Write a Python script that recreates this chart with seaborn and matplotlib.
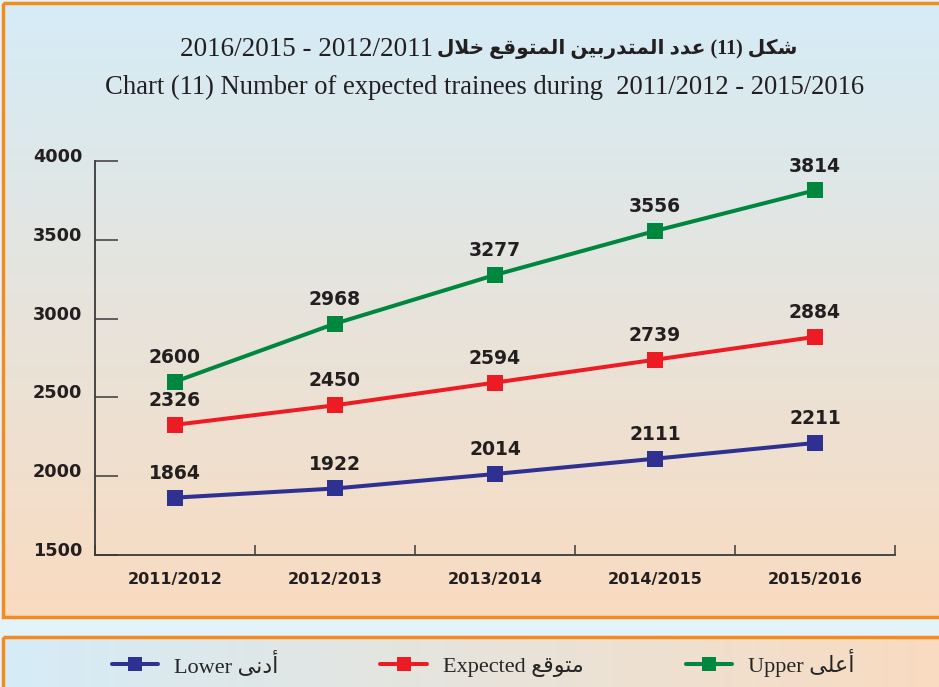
import matplotlib
matplotlib.use("Agg")
import matplotlib.pyplot as plt
import numpy as np
import pandas as pd
import seaborn as sns
from matplotlib.lines import Line2D
from matplotlib.patches import Rectangle
from matplotlib.transforms import ScaledTranslation

YEARS = ["2011/2012", "2012/2013", "2013/2014", "2014/2015", "2015/2016"]
LOWER = [1864, 1922, 2014, 2111, 2211]
EXPECTED = [2326, 2450, 2594, 2739, 2884]
UPPER = [2600, 2968, 3277, 3556, 3814]
SERIES = ["Lower", "Expected", "Upper"]
SERIES_AR = ["أدنى", "متوقع", "أعلى"]
COLORS = ["#2e3192", "#ed1c24", "#00873f"]
Y_TICKS = [1500, 2000, 2500, 3000, 3500, 4000]

TITLE_AR = ["شكل", "(11)", "عدد", "المتدربين", "المتوقع", "خلال"]
TITLE_AR_YEARS = "2016/2015 - 2012/2011"
TITLE_EN = "Chart (11) Number of expected trainees during  2011/2012 - 2015/2016"

# minimal arabic shaping: isolated, final, initial, medial
FORMS = {
    "ا": (0xFE8D, 0xFE8E, None, None), "أ": (0xFE83, 0xFE84, None, None),
    "ب": (0xFE8F, 0xFE90, 0xFE91, 0xFE92), "ت": (0xFE95, 0xFE96, 0xFE97, 0xFE98),
    "خ": (0xFEA5, 0xFEA6, 0xFEA7, 0xFEA8), "د": (0xFEA9, 0xFEAA, None, None),
    "ر": (0xFEAD, 0xFEAE, None, None), "ش": (0xFEB5, 0xFEB6, 0xFEB7, 0xFEB8),
    "ع": (0xFEC9, 0xFECA, 0xFECB, 0xFECC), "ق": (0xFED5, 0xFED6, 0xFED7, 0xFED8),
    "ك": (0xFED9, 0xFEDA, 0xFEDB, 0xFEDC), "ل": (0xFEDD, 0xFEDE, 0xFEDF, 0xFEE0),
    "م": (0xFEE1, 0xFEE2, 0xFEE3, 0xFEE4), "ن": (0xFEE5, 0xFEE6, 0xFEE7, 0xFEE8),
    "و": (0xFEED, 0xFEEE, None, None), "ى": (0xFEEF, 0xFEF0, None, None),
    "ي": (0xFEF1, 0xFEF2, 0xFEF3, 0xFEF4),
}


def shape_word(word):
    # merge lam-alef first
    chars = []
    i = 0
    while i < len(word):
        if word[i] == "ل" and i + 1 < len(word) and word[i + 1] in "اأ":
            chars.append("LA" if word[i + 1] == "ا" else "LAH")
            i += 2
        else:
            chars.append(word[i])
            i += 1

    def joins_left(c):
        if c in ("LA", "LAH"):
            return False
        return FORMS.get(c, (None, None, None))[2] is not None

    out = []
    for k, c in enumerate(chars):
        prev_joins = k > 0 and joins_left(chars[k - 1])
        next_exists = k + 1 < len(chars) and (chars[k + 1] in FORMS or chars[k + 1] in ("LA", "LAH"))
        if c in ("LA", "LAH"):
            base = 0xFEFB if c == "LA" else 0xFEF7
            out.append(chr(base + (1 if prev_joins else 0)))
            continue
        iso, fin, ini, med = FORMS[c]
        can_left = ini is not None and next_exists
        if prev_joins and can_left:
            out.append(chr(med))
        elif prev_joins:
            out.append(chr(fin))
        elif can_left:
            out.append(chr(ini))
        else:
            out.append(chr(iso))
    return "".join(reversed(out))


def visual_ar(tokens):
    # tokens in logical (right-to-left) order; output left-to-right
    vis = []
    for t in tokens:
        if any("\u0600" <= ch <= "\u06ff" for ch in t):
            vis.append(shape_word(t))
        else:
            vis.append(t)
    return " ".join(reversed(vis))


df = pd.DataFrame({
    "year": YEARS * 3,
    "value": LOWER + EXPECTED + UPPER,
    "series": [s for s in SERIES for _ in YEARS],
})

sns.set_theme(style="white")
plt.rcParams["font.family"] = ["DejaVu Sans"]
MIXED = ["Liberation Serif", "DejaVu Sans"]

W, H = 939, 687
fig = plt.figure(figsize=(W / 100, H / 100), dpi=100)

# background panels
bg = fig.add_axes([0, 0, 1, 1], zorder=-10)
bg.set_xlim(0, W)
bg.set_ylim(H, 0)
bg.axis("off")
bg.add_patch(Rectangle((0, 0), W, H, color="#e2f3fa"))
top_c = np.array([213, 236, 247]) / 255
bot_c = np.array([249, 219, 192]) / 255
grad_v = np.linspace(0, 1, 256)[:, None, None]
img_v = top_c * (1 - grad_v) + bot_c * grad_v
bg.imshow(np.repeat(img_v, 2, axis=1), extent=(3, W + 5, 617, 3), aspect="auto", zorder=1)
bg.add_patch(Rectangle((3, 3), W + 10, 614, fill=False, ec="#f58a20", lw=2.5, zorder=2))
grad_h = np.linspace(0, 1, 256)[None, :, None]
img_h = top_c * (1 - grad_h) + bot_c * grad_h
bg.imshow(np.repeat(img_h, 2, axis=0), extent=(3, W + 5, H + 5, 637), aspect="auto", zorder=1)
bg.add_patch(Rectangle((3, 637), W + 10, 60, fill=False, ec="#f58a20", lw=2.5, zorder=2))

# main chart
ax = fig.add_axes([95 / W, 1 - 555 / H, 800 / W, (555 - 161) / H])
ax.set_facecolor("none")
sns.lineplot(
    data=df, x="year", y="value", hue="series", hue_order=SERIES,
    palette=COLORS, marker="s", markersize=11.5, markeredgewidth=0,
    linewidth=2.9, legend=False, sort=False, ax=ax, clip_on=False,
)
ax.set_xlim(-0.5, 4.5)
ax.set_ylim(1500, 4000)
ax.set_xlabel("")
ax.set_ylabel("")

for vals in (LOWER, EXPECTED, UPPER):
    for i, v in enumerate(vals):
        ax.annotate(str(v), (i, v), xytext=(0, 17.5), textcoords="offset points",
                    ha="center", va="center", fontsize=13.5, fontweight="bold",
                    color="#231f20")

for side in ("top", "right"):
    ax.spines[side].set_visible(False)
for side in ("left", "bottom"):
    ax.spines[side].set_color("#3a3a3a")
    ax.spines[side].set_linewidth(1.3)

ax.set_yticks(Y_TICKS)
ax.set_yticklabels([str(t) for t in Y_TICKS])
ax.tick_params(axis="y", direction="in", length=16.5, width=1.1, color="#3a3a3a",
               pad=9, labelsize=12.7, labelcolor="#231f20", left=True)
for lab in ax.get_yticklabels():
    lab.set_fontweight("bold")
    lab.set_transform(lab.get_transform() + ScaledTranslation(0, 0.06, fig.dpi_scale_trans))

ax.set_xticks(range(len(YEARS)))
ax.set_xticklabels(YEARS)
ax.set_xticks(np.arange(-0.5, len(YEARS)), minor=True)
ax.tick_params(axis="x", which="major", length=0, pad=12, labelsize=11.5, labelcolor="#231f20")
ax.tick_params(axis="x", which="minor", direction="in", length=7, width=1.1, color="#3a3a3a", bottom=True)
for lab in ax.get_xticklabels():
    lab.set_fontweight("bold")

# titles
t_ar = fig.text(797 / W, 1 - 49 / H, visual_ar(TITLE_AR), ha="right", va="center",
                fontsize=14.5, family=MIXED, fontweight="bold", color="#231f20")
fig.texts.append(matplotlib.text.Annotation(
    TITLE_AR_YEARS, xy=(0, 0.5), xycoords=t_ar, xytext=(-4, 0), textcoords="offset pixels",
    ha="right", va="center", fontsize=19.5, family=MIXED, color="#231f20"))
fig.texts[-1].set_figure(fig)
fig.text(485 / W, 1 - 87 / H, TITLE_EN, ha="center", va="center",
         fontsize=19.2, family=MIXED, color="#231f20")

# legend
handles = [
    Line2D([], [], color=c, lw=2.9, marker="s", markersize=10.5, markeredgewidth=0)
    for c in COLORS
]
labels = [f"{en} {shape_word(ar)}" for en, ar in zip(SERIES, SERIES_AR)]
fig.legend(handles, labels, loc="center", bbox_to_anchor=(483 / W, 1 - 663 / H),
           ncol=3, frameon=False, handlelength=2.1, columnspacing=4.6,
           handletextpad=0.7, prop={"family": MIXED, "size": 16})

fig.savefig("out.png", dpi=100)
